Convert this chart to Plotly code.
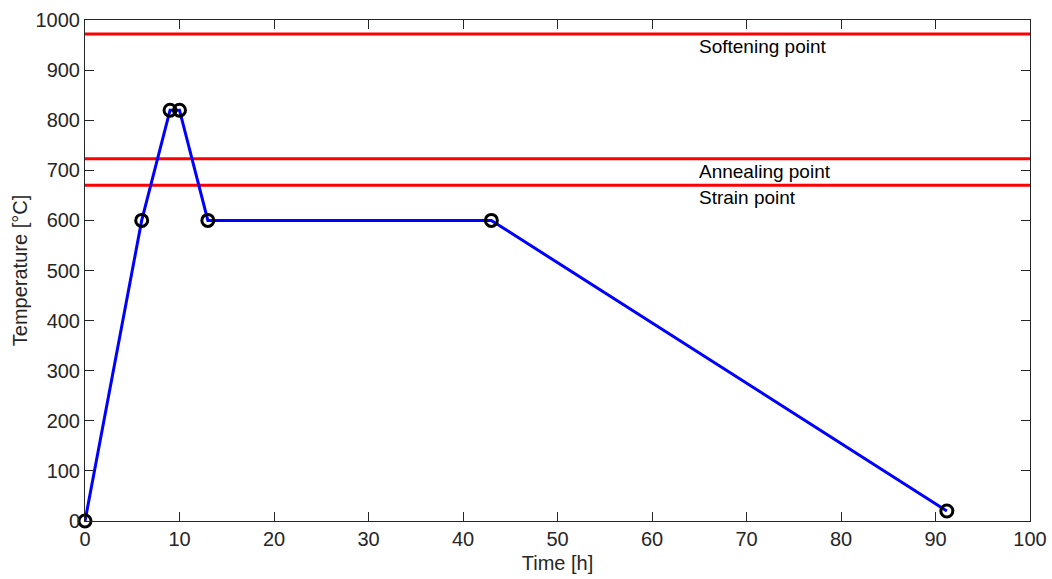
import plotly.graph_objects as go

time_h = [0, 6, 9, 10, 13, 43, 91.2]
temp_c = [0, 600, 820, 820, 600, 600, 20]

ref_names = ["Softening point", "Annealing point", "Strain point"]
ref_temps = [972, 723, 670]
label_x = 65
label_offset = -25

FONT = "Liberation Sans, Arial"

fig = go.Figure()
for t in ref_temps:
    fig.add_trace(go.Scatter(x=[0, 100], y=[t, t], mode="lines",
                             line=dict(color="#ff0000", width=3), showlegend=False,
                             hoverinfo="skip"))
fig.add_trace(go.Scatter(x=time_h, y=temp_c, mode="lines",
                         line=dict(color="#0000ff", width=3), showlegend=False))
fig.add_trace(go.Scatter(x=time_h, y=temp_c, mode="markers",
                         marker=dict(symbol="circle-open", size=12, color="black",
                                     line=dict(width=3, color="black")),
                         showlegend=False, cliponaxis=False))

for name, t in zip(ref_names, ref_temps):
    fig.add_annotation(x=label_x, y=t + label_offset, text=name, showarrow=False,
                       xanchor="left", yanchor="middle", xshift=-2,
                       font=dict(size=19, color="black", family=FONT))

axis_common = dict(showgrid=False, zeroline=False, showline=True, linecolor="#262626",
                   linewidth=1, mirror="ticks", ticks="inside", ticklen=9,
                   tickcolor="#262626", tickwidth=1, automargin=False,
                   tickfont=dict(size=20, color="#262626", family=FONT))

fig.update_xaxes(range=[0, 100], tickvals=list(range(0, 101, 10)),
                 title=dict(text="Time [h]", standoff=6,
                            font=dict(size=20, color="#262626", family=FONT)),
                 **axis_common)
fig.update_yaxes(range=[0, 1000], tickvals=list(range(0, 1001, 100)),
                 title=dict(text="Temperature [°C]", standoff=2,
                            font=dict(size=20, color="#262626", family=FONT)),
                 **axis_common)

fig.update_layout(width=1052, height=579, margin=dict(l=85, r=22, t=20, b=58),
                  plot_bgcolor="white", paper_bgcolor="white")

fig.write_html("out.html")
